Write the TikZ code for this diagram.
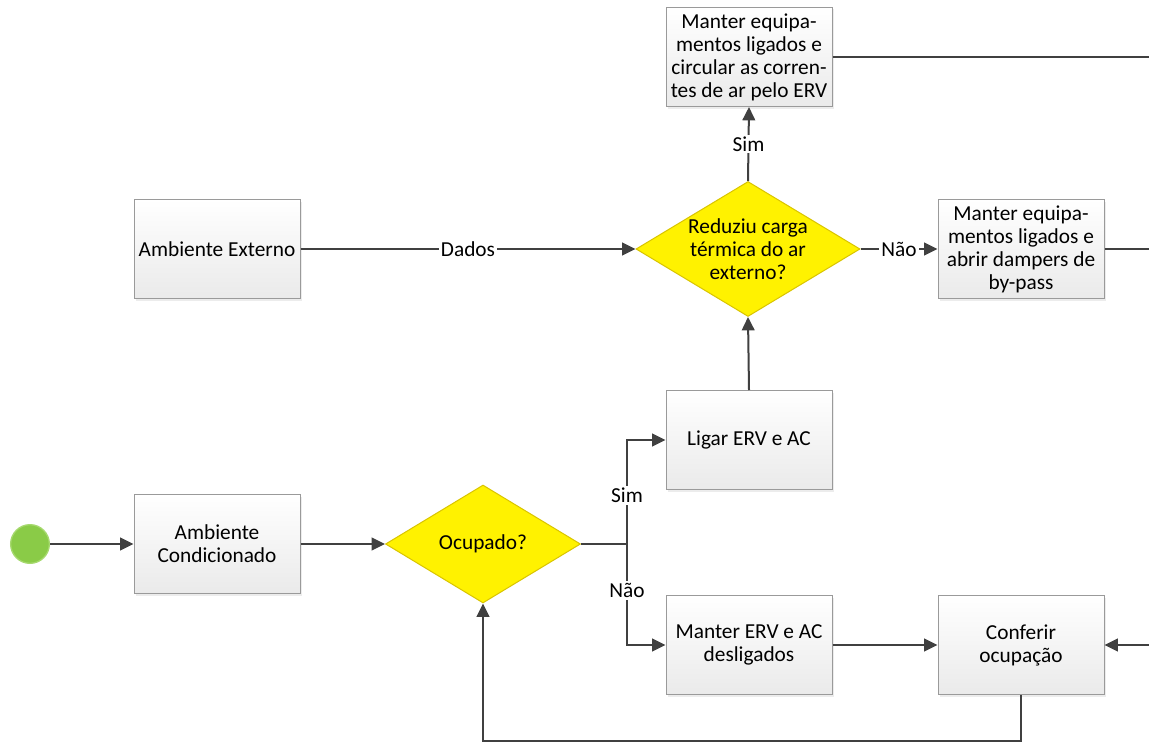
\documentclass[tikz,border=0pt]{standalone}
\usepackage{fontspec}
\setmainfont{Carlito}
\usetikzlibrary{arrows.meta,shapes.geometric,shadows}

\definecolor{linhacor}{HTML}{404040}
\definecolor{bordacaixa}{HTML}{9A9A9A}
\definecolor{fundocaixa}{HTML}{EAEAEA}
\definecolor{amarelo}{HTML}{FFF200}
\definecolor{bordaamarelo}{HTML}{D9C400}
\definecolor{verde}{HTML}{8ACB47}
\definecolor{bordaverde}{HTML}{A6D96E}

\begin{document}
\begin{tikzpicture}[x=0.75pt, y=-0.75pt, font=\fontsize{16}{17.3}\selectfont]
        \tikzset{caixa/.style={rectangle, draw=bordacaixa, line width=0.75pt, top color=white, bottom color=fundocaixa, minimum width=124.5pt, minimum height=74.25pt, align=center, inner sep=1pt, drop shadow={opacity=0.15, shadow xshift=1.5pt, shadow yshift=-1.5pt}}}
        \tikzset{decisao/.style={diamond, draw=bordaamarelo, fill=amarelo, line width=0.75pt, aspect=1.66, inner sep=0pt, align=center}}
        \tikzset{fluxo/.style={-{Triangle[length=10pt,width=9.5pt]}, line width=1.5pt, draw=linhacor}}
        \tikzset{linha/.style={line width=1.5pt, draw=linhacor}}
        \tikzset{rotulo/.style={fill=white, inner sep=1.5pt, text=black}}
        \useasboundingbox (0,0) rectangle (1149,742);
        % inicio
        \node[circle, fill=verde, draw=bordaverde, line width=1pt, minimum size=29pt, inner sep=0pt] (inicio) at (30,544) {};
        \node[caixa] (condicionado) at (217,544) {Ambiente\\Condicionado};
        \node[decisao, minimum width=146.25pt, minimum height=88.5pt] (ocupado) at (483,544) {Ocupado?};
        \node[caixa] (ligar) at (749,440) {Ligar ERV e AC};
        \node[caixa] (desligados) at (749,645) {Manter ERV e AC\\desligados};
        \node[caixa] (conferir) at (1021,645) {Conferir\\ocupação};
        % parte de cima
        \node[caixa] (externo) at (217,249) {Ambiente Externo};
        \node[decisao, minimum width=168pt, minimum height=101.25pt] (reduziu) at (748,249) {Reduziu carga\\térmica do ar\\externo?};
        \node[caixa] (circular) at (749,57) {Manter equipa-\\mentos ligados e\\circular as corren-\\tes de ar pelo ERV};
        \node[caixa] (bypass) at (1021,249) {Manter equipa-\\mentos ligados e\\abrir dampers de\\by-pass};
        \coordinate (saida1) at (1149,57);
        \coordinate (saida2) at (1149,249);
        \coordinate (entrada) at (1149,645);
        \coordinate (divisao) at (627,544);
        % conexoes
        \draw[fluxo] (inicio) -- (condicionado);
        \draw[fluxo] (condicionado) -- (ocupado);
        \draw[linha] (ocupado.east) -- (divisao);
        \draw[fluxo] (divisao) |- node[rotulo, pos=0.235] {Sim} (ligar.west);
        \draw[fluxo] (divisao) |- node[rotulo, pos=0.23] {Não} (desligados.west);
        \draw[fluxo] (desligados) -- (conferir);
        \draw[fluxo] (entrada) -- (conferir.east);
        \draw[fluxo] (conferir.south) -- ++(0,46) -| (ocupado.south);
        \draw[fluxo] (ligar.north) -- (reduziu.south);
        \draw[fluxo] (externo) -- node[rotulo] {Dados} (reduziu.west);
        \draw[fluxo] (reduziu.north) -- node[rotulo] {Sim} (circular.south);
        \draw[fluxo] (reduziu.east) -- node[rotulo] {Não} (bypass.west);
        \draw[linha] (circular.east) -- (saida1);
        \draw[linha] (bypass.east) -- (saida2);
\end{tikzpicture}
\end{document}
